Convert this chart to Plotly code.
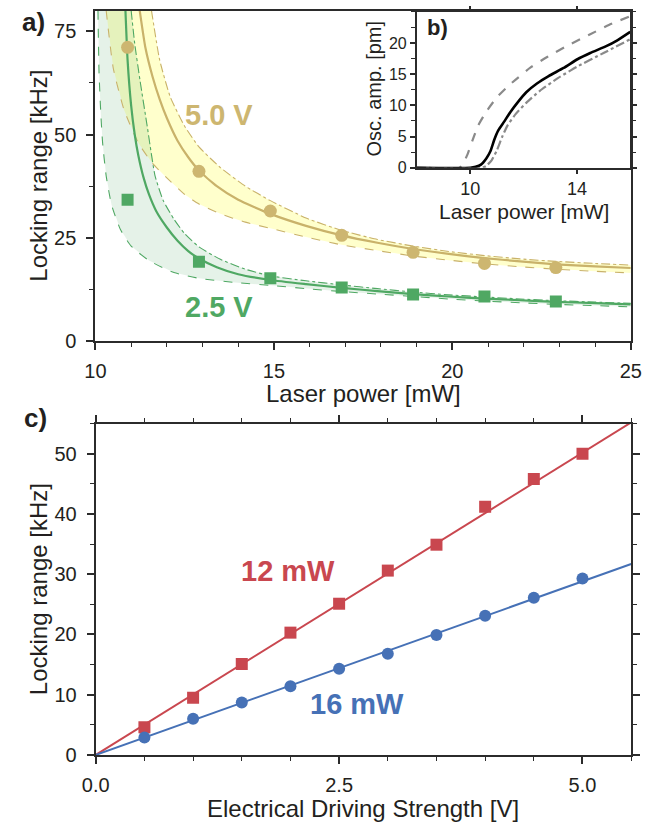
import plotly.graph_objects as go

W, H = 654, 834

def fx(x):
    return x / W

def fy(y):
    return 1 - y / H

# ---------------- Panel a: locking range vs laser power ----------------
p_meas = [10.9, 12.9, 14.9, 16.9, 18.9, 20.9, 22.9]
lr_5v = [71.1, 41.1, 31.5, 25.6, 21.5, 18.8, 17.8]
lr_25v = [34.2, 19.2, 15.2, 13.0, 11.3, 10.8, 9.6]

fit5_p = [11.24, 11.4, 11.6, 11.8, 12.0, 12.3, 12.6, 12.9, 13.4, 14.0, 14.9, 15.9, 16.9,
          17.9, 18.9, 19.9, 20.9, 21.9, 22.9, 24.0, 25.0]
fit5_l = [80, 71, 64, 58.5, 54, 48.5, 44.5, 41.3, 37.5, 34.2, 30.8, 27.9, 25.6,
          23.8, 22.3, 21.1, 20.1, 19.3, 18.6, 18.1, 17.7]
lo5_p = [10.30, 10.5, 10.8, 11.2, 11.6, 12.0, 12.5, 12.9, 13.5, 14.2, 14.9, 15.9, 16.9,
         17.9, 18.9, 19.9, 20.9, 21.9, 22.9, 24.0, 25.0]
lo5_l = [80, 66, 56, 48, 43, 39.5, 35.5, 33.2, 30.8, 28.8, 27.3, 25.2, 23.3,
         21.9, 20.6, 19.6, 18.7, 18.0, 17.4, 16.9, 16.5]
hi5_p = [11.57, 11.8, 12.1, 12.5, 12.9, 13.5, 14.2, 14.9, 15.9, 16.9, 17.9, 18.9, 19.9,
         20.9, 21.9, 22.9, 24.0, 25.0]
hi5_l = [80, 68, 59, 52, 47, 42, 37.5, 34.0, 29.8, 26.8, 24.6, 23.0, 21.7,
         20.7, 19.9, 19.3, 18.8, 18.4]

fit25_p = [10.84, 10.9, 11.0, 11.1, 11.2, 11.35, 11.5, 11.7, 12.0, 12.3, 12.6, 12.9, 13.4,
           14.0, 14.9, 15.9, 16.9, 17.9, 18.9, 19.9, 20.9, 21.9, 22.9, 24.0, 25.0]
fit25_l = [80, 68, 57, 50, 45, 39.5, 35.5, 31.5, 27.5, 24.3, 21.8, 20.0, 17.9,
           16.2, 14.8, 13.8, 12.9, 12.1, 11.4, 10.8, 10.3, 9.9, 9.5, 9.2, 8.9]
lo25_p = [10.07, 10.1, 10.15, 10.2, 10.3, 10.45, 10.7, 11.0, 11.5, 12.2, 12.9, 13.9, 14.9,
          15.9, 16.9, 17.9, 18.9, 19.9, 20.9, 21.9, 22.9, 24.0, 25.0]
lo25_l = [80, 65, 55, 48, 40, 33, 27, 23, 19.5, 16.6, 15.2, 14.2, 13.5,
          12.7, 12.0, 11.4, 10.8, 10.2, 9.7, 9.3, 8.9, 8.6, 8.3]
hi25_p = [11.0, 11.1, 11.25, 11.45, 11.67, 11.9, 12.2, 12.5, 12.9, 13.5, 14.2, 14.9, 15.9,
          16.9, 17.9, 18.9, 19.9, 20.9, 21.9, 22.9, 24.0, 25.0]
hi25_l = [80, 72, 63, 52, 40, 34, 29.5, 26, 22.8, 19.8, 17.4, 15.8, 14.6,
          13.6, 12.7, 11.9, 11.2, 10.7, 10.2, 9.8, 9.45, 9.15]

# ---------------- Panel b: oscillation amplitude vs laser power ----------------
amp_p = [8, 10.0, 10.2, 10.4, 10.6, 10.75, 10.9, 11.05, 11.27, 11.5, 11.8, 12.1, 12.5,
         12.94, 13.5, 14.02, 14.5, 15.1, 15.5, 16.0]
amp_a = [0, 0, 0.15, 0.5, 1.5, 2.6, 4.5, 6.0, 7.4, 8.9, 10.6, 12.1, 13.5,
         14.7, 16.0, 17.4, 18.4, 19.5, 20.4, 21.8]
amp_hi_p = [8, 9.6, 9.75, 9.9, 10.1, 10.3, 10.6, 11.0, 11.5, 12.3, 12.9, 13.7, 14.5, 15.2, 16.0]
amp_hi_a = [0, 0, 0.8, 2.2, 4.6, 6.8, 9.0, 11.3, 13.4, 16.2, 17.8, 19.7, 21.4, 22.9, 24.3]
amp_lo_p = [8, 10.45, 10.6, 10.8, 11.0, 11.2, 11.4, 11.7, 12.1, 12.6, 13.3, 14.0, 15.0, 16.0]
amp_lo_a = [0, 0, 0.3, 1.2, 2.8, 5.0, 6.8, 8.6, 10.4, 12.3, 14.4, 16.2, 18.4, 20.6]

# ---------------- Panel c: locking range vs driving strength ----------------
drive_v = [0.5, 1.0, 1.5, 2.0, 2.5, 3.0, 3.5, 4.0, 4.5, 5.0]
lr_12mw = [4.6, 9.5, 15.1, 20.3, 25.1, 30.6, 34.9, 41.2, 45.8, 50.0]
lr_16mw = [2.9, 6.0, 8.7, 11.4, 14.3, 16.8, 19.9, 23.1, 26.1, 29.3]
fit_v = [0.0, 5.5]
fit_12mw = [0.0, 55.2]
fit_16mw = [0.0, 31.7]

TAN = "#CDB670"
TAN_LINE = "#C9B26A"
GREEN = "#4FA863"
RED = "#C9474F"
BLUE = "#4671B6"
AX = "#2B2B2B"
TXT = "#231F20"
FONT = "Liberation Sans, Arial, sans-serif"

fig = go.Figure()

# fills (pale yellow first, translucent green on top -> yellow-green overlap)
fig.add_trace(go.Scatter(x=lo5_p + hi5_p[::-1], y=lo5_l + hi5_l[::-1], fill="toself",
                         fillcolor="#FFFFCC", line=dict(width=0), mode="lines",
                         hoverinfo="skip", showlegend=False, xaxis="x", yaxis="y"))
fig.add_trace(go.Scatter(x=lo25_p + hi25_p[::-1], y=lo25_l + hi25_l[::-1], fill="toself",
                         fillcolor="rgba(70,165,95,0.14)", line=dict(width=0), mode="lines",
                         hoverinfo="skip", showlegend=False, xaxis="x", yaxis="y"))

def line(x, y, color, dash="solid", width=2.0, xa="x", ya="y"):
    fig.add_trace(go.Scatter(x=x, y=y, mode="lines", line=dict(color=color, dash=dash, width=width,
                                                                  shape="spline", smoothing=0.5),
                             showlegend=False, xaxis=xa, yaxis=ya, cliponaxis=True))

line(lo25_p, lo25_l, GREEN, "dash", 1.1)
line(hi25_p, hi25_l, GREEN, "dashdot", 1.1)
line(lo5_p, lo5_l, TAN_LINE, "dash", 1.1)
line(hi5_p, hi5_l, TAN_LINE, "dashdot", 1.1)
line(fit25_p, fit25_l, GREEN, "solid", 2.2)
line(fit5_p, fit5_l, TAN_LINE, "solid", 2.2)

fig.add_trace(go.Scatter(x=p_meas, y=lr_5v, mode="markers",
                         marker=dict(symbol="circle", size=13, color=TAN), showlegend=False,
                         xaxis="x", yaxis="y"))
fig.add_trace(go.Scatter(x=p_meas, y=lr_25v, mode="markers",
                         marker=dict(symbol="square", size=12, color=GREEN), showlegend=False,
                         xaxis="x", yaxis="y"))

# inset
line(amp_hi_p, amp_hi_a, "#8A8A8A", "dash", 2.2, "x2", "y2")
line(amp_lo_p, amp_lo_a, "#8A8A8A", "dashdot", 2.2, "x2", "y2")
line(amp_p, amp_a, "#000000", "solid", 2.6, "x2", "y2")

# panel c
fig.add_trace(go.Scatter(x=fit_v, y=fit_12mw, mode="lines", line=dict(color=RED, width=2),
                         showlegend=False, xaxis="x3", yaxis="y3"))
fig.add_trace(go.Scatter(x=fit_v, y=fit_16mw, mode="lines", line=dict(color=BLUE, width=2),
                         showlegend=False, xaxis="x3", yaxis="y3"))
fig.add_trace(go.Scatter(x=drive_v, y=lr_12mw, mode="markers",
                         marker=dict(symbol="square", size=12, color=RED), showlegend=False,
                         xaxis="x3", yaxis="y3"))
fig.add_trace(go.Scatter(x=drive_v, y=lr_16mw, mode="markers",
                         marker=dict(symbol="circle", size=12, color=BLUE), showlegend=False,
                         xaxis="x3", yaxis="y3"))


def axis(domain, rng, tickvals, ticktext, minor_dtick, anchor, mirror, fsize=20, tlen=7, standoff=0):
    d = dict(domain=domain, range=rng, tickmode="array", tickvals=tickvals, ticktext=ticktext,
             showline=True, linewidth=2.2, linecolor=AX, mirror=mirror, ticks="outside",
             ticklen=tlen, tickwidth=1.5, tickcolor=AX, showgrid=False, zeroline=False,
             tickfont=dict(family=FONT, size=fsize, color=TXT), anchor=anchor, fixedrange=True,
             ticklabelstandoff=standoff)
    if minor_dtick:
        d["minor"] = dict(dtick=minor_dtick, ticklen=4, tickwidth=1.2, tickcolor=AX,
                          ticks="outside", showgrid=False)
    return d

fig.update_layout(
    width=W, height=H, margin=dict(l=0, r=0, t=0, b=0),
    paper_bgcolor="white", plot_bgcolor="rgba(0,0,0,0)", showlegend=False,
    xaxis=axis([fx(84.7), fx(641.3)], [10, 25], [10, 15, 20, 25], ["10", "15", "20", "25"], 1, "y", True,
               standoff=4),
    yaxis=axis([fy(345.7), fy(10.7)], [0, 80], [0, 25, 50, 75], ["0", "25", "50", "75"], 12.5, "x", True,
               standoff=6),
    xaxis2=axis([fx(419), fx(640.7)], [8, 16], [10, 14], ["10", "14"], None, "y2", "ticks", 18, 4),
    yaxis2=axis([fy(170), fy(12)], [0, 25], [0, 5, 10, 15, 20], ["0", "5", "10", "15", "20"], 2.5, "x2",
                "ticks", 16, 5),
    xaxis3=axis([fx(85), fx(641.7)], [0, 5.5], [0, 2.5, 5.0], ["0.0", "2.5", "5.0"], 0.5, "y3", "ticks",
                standoff=4),
    yaxis3=axis([fy(765), fy(429.3)], [0, 55], [0, 10, 20, 30, 40, 50], ["0", "10", "20", "30", "40", "50"],
                5, "x3", "ticks", standoff=6),
)

ann = []
def text(x, y, s, size, color=TXT, bold=False, angle=0, xanchor="center", yanchor="middle"):
    ann.append(dict(x=fx(x), y=fy(y), xref="paper", yref="paper", text=(f"<b>{s}</b>" if bold else s),
                    showarrow=False, font=dict(family=FONT, size=size, color=color), textangle=angle,
                    xanchor=xanchor, yanchor=yanchor))

text(26, 178, "Locking range [kHz]", 24, angle=-90)
text(363, 399, "Laser power [mW]", 24)
text(374, 90, "Osc. amp. [pm]", 20, angle=-90)
text(530, 214, "Laser power [mW]", 21)
text(25, 597, "Locking range [kHz]", 24, angle=-90)
text(363, 819, "Electrical Driving Strength [V]", 24)

text(6, 22, "a)", 26, bold=True, xanchor="left")
text(427, 28, "b)", 22, bold=True, xanchor="left")
text(8, 424, "c)", 26, bold=True, xanchor="left")

text(213, 117, "5.0 V", 29, color=TAN, bold=True)
text(213, 311, "2.5 V", 29, color=GREEN, bold=True)
text(285, 579, "12 mW", 29, color=RED, bold=True)
text(357, 713, "16 mW", 29, color=BLUE, bold=True)

fig.update_layout(annotations=ann)

fig.write_html("out.html")
